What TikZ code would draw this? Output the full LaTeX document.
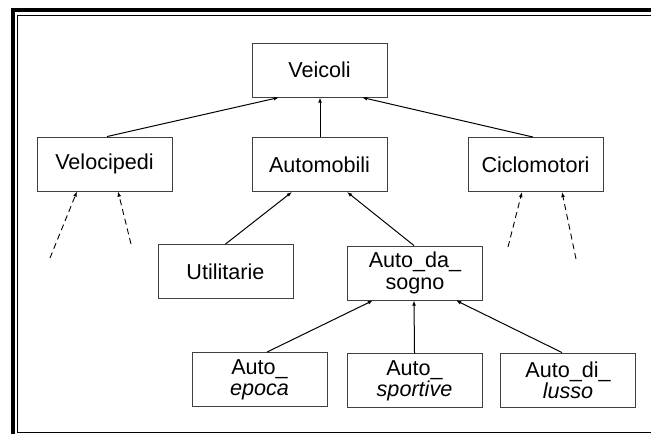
\documentclass[tikz,border=0pt]{standalone}
\usepackage{fontspec}
\setmainfont{Liberation Sans}
\usetikzlibrary{arrows.meta}

\begin{document}
\begin{tikzpicture}[x=0.5pt, y=-0.5pt, >={Latex[length=2.6pt,width=1.9pt]},
    every node/.style={font=\fontsize{10.8}{10.6}\selectfont},
    classbox/.style={draw=black!75, line width=0.45pt, minimum width=67.5pt, minimum height=27pt, inner sep=0pt, align=center},
    isa/.style={->, line width=0.5pt},
    open/.style={->, line width=0.45pt, dash pattern=on 3pt off 2pt}]
  \useasboundingbox (0,0) rectangle (651,434);
  % page frame (thick outer, thin inner)
  \draw[line width=2pt] (13,434) -- (13,9.5) -- (651,9.5);
  \draw[line width=0.5pt] (651,15) -- (17.5,15) -- (17.5,432) -- (651,432);
  % hierarchy of classes
  \node[classbox] (veicoli) at (319.5,70) {Veicoli};
  \node[classbox] (velocipedi) at (104.5,164) {Velocipedi};
  \node[classbox] (automobili) at (319.5,164.5) {Automobili};
  \node[classbox] (ciclomotori) at (535.5,164.5) {Ciclomotori};
  \node[classbox] (utilitarie) at (225.5,271.5) {Utilitarie};
  \node[classbox] (sogno) at (415,273) {Auto\_da\_\\sogno};
  \node[classbox] (epoca) at (259.5,379.5) {Auto\_\\\textit{epoca}};
  \node[classbox] (sportive) at (414.5,380.5) {Auto\_\\\textit{sportive}};
  \node[classbox] (lusso) at (568,380) {Auto\_di\_\\\textit{lusso}};
  % subclass links, tip at the superclass
  \draw[isa] ([xshift=1.25pt]velocipedi.north) -- ([xshift=-20.25pt]veicoli.south);
  \draw[isa] ([xshift=0.25pt]automobili.north) -- ([xshift=0.25pt]veicoli.south);
  \draw[isa] ([xshift=-1.25pt]ciclomotori.north) -- ([xshift=21.25pt]veicoli.south);
  \draw[isa] (utilitarie.north) -- ([xshift=-13.75pt]automobili.south);
  \draw[isa] ([xshift=-0.5pt]sogno.north) -- ([xshift=13.75pt]automobili.south);
  \draw[isa] ([xshift=3.75pt]epoca.north) -- ([xshift=-21pt]sogno.south);
  \draw[isa] (sportive.north) -- ([xshift=-0.5pt]sogno.south);
  \draw[isa] ([xshift=-3pt]lusso.north) -- ([xshift=20.5pt]sogno.south);
  % further subclasses left open
  \coordinate (v1) at (50,258);
  \coordinate (v2) at (131,244);
  \coordinate (c1) at (508,247);
  \coordinate (c2) at (576,259);
  \draw[open] (v1) -- ([xshift=-13.75pt]velocipedi.south);
  \draw[open] (v2) -- ([xshift=6.75pt]velocipedi.south);
  \draw[open] (c1) -- ([xshift=-6.75pt]ciclomotori.south);
  \draw[open] (c2) -- ([xshift=13.25pt]ciclomotori.south);
\end{tikzpicture}
\end{document}
